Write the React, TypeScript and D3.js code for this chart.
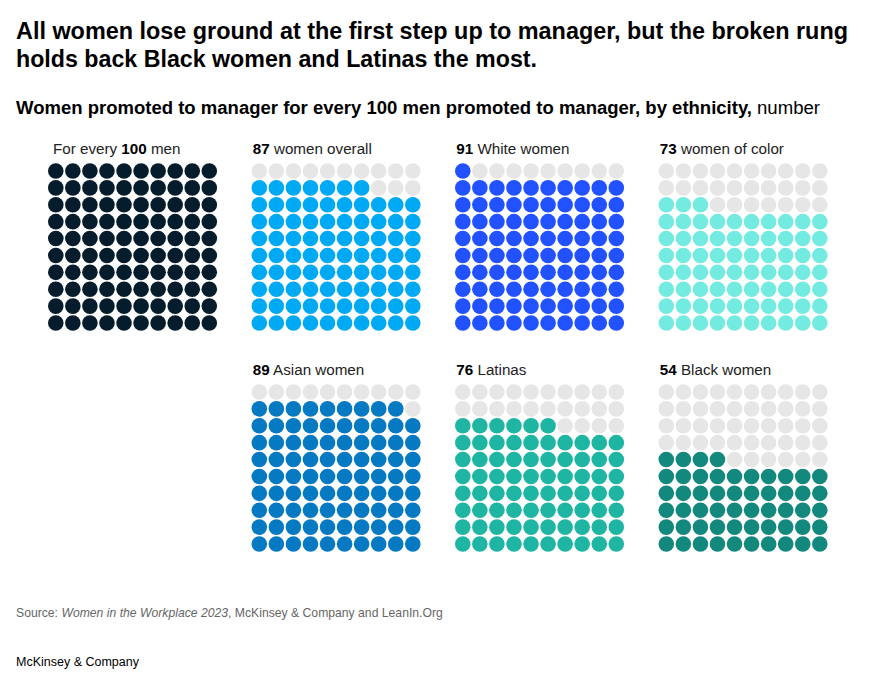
import React from "react";
import * as d3 from "d3";

const groupValues = [100, 87, 91, 73, 89, 76, 54];
const groupNumbers = ["100", "87", "91", "73", "89", "76", "54"];
const groupLabels = ["men", "women overall", "White women", "women of color", "Asian women", "Latinas", "Black women"];
const groupColors = ["#051c2c", "#00a9f4", "#2251ff", "#74ebe1", "#0679c3", "#1eb5a3", "#13887c"];
const groupCols = [0, 1, 2, 3, 1, 2, 3];
const groupRows = [0, 0, 0, 0, 1, 1, 1];

const GRID = 10;
const EMPTY = "#e6e6e6";

export default function App() {
  const W = 876, H = 691;
  const panelX = d3.scaleLinear().domain([0, 3]).range([55.8, 666.3]);
  const panelY = d3.scaleLinear().domain([0, 1]).range([171, 392]);
  const dotX = d3.scaleLinear().domain([0, GRID - 1]).range([0, 153.5]);
  const dotY = d3.scaleLinear().domain([0, GRID - 1]).range([0, 152]);
  const cells = d3.range(GRID * GRID);
  const font = "'Liberation Sans', Arial, Helvetica, sans-serif";

  return (
    <svg width={W} height={H} style={{ position: "absolute", left: 0, top: 0, background: "#fff" }} fontFamily={font}>
      <text x={16} y={39} fontSize={23} fontWeight={700} fill="#000" textLength={832} lengthAdjust="spacingAndGlyphs">
        All women lose ground at the first step up to manager, but the broken rung
      </text>
      <text x={16} y={67} fontSize={23} fontWeight={700} fill="#000" textLength={521} lengthAdjust="spacingAndGlyphs">
        holds back Black women and Latinas the most.
      </text>
      <text x={16} y={114} fontSize={17.5} fontWeight={700} fill="#000" textLength={736} lengthAdjust="spacingAndGlyphs">
        Women promoted to manager for every 100 men promoted to manager, by ethnicity,
      </text>
      <text x={757} y={114} fontSize={17.5} fill="#000" textLength={63} lengthAdjust="spacingAndGlyphs">
        number
      </text>

      {groupValues.map((v, g) => {
        const ox = panelX(groupCols[g]);
        const oy = panelY(groupRows[g]);
        const full = Math.floor(v / GRID);
        const rem = v % GRID;
        return (
          <g key={g}>
            {g === 0 ? (
              <text x={53} y={oy - 17} fontSize={15.2} fill="#222">
                For every <tspan fontWeight={700} fill="#000">{groupNumbers[g]}</tspan> {groupLabels[g]}
              </text>
            ) : (
              <text x={ox - 6.5} y={oy - 17} fontSize={15.2} fill="#222">
                <tspan fontWeight={700} fill="#000">{groupNumbers[g]}</tspan> {groupLabels[g]}
              </text>
            )}
            {cells.map((i) => {
              const r = Math.floor(i / GRID);
              const c = i % GRID;
              const fromBottom = GRID - 1 - r;
              const filled = fromBottom < full || (fromBottom === full && c < rem);
              return (
                <circle key={i} cx={ox + dotX(c)} cy={oy + dotY(r)} r={7.8} fill={filled ? groupColors[g] : EMPTY} />
              );
            })}
          </g>
        );
      })}

      <text x={16} y={617} fontSize={12.2} fill="#666">
        Source: <tspan fontStyle="italic">Women in the Workplace 2023</tspan>, McKinsey &amp; Company and LeanIn.Org
      </text>
      <text x={16} y={666} fontSize={12.5} fill="#000">
        McKinsey &amp; Company
      </text>
    </svg>
  );
}
